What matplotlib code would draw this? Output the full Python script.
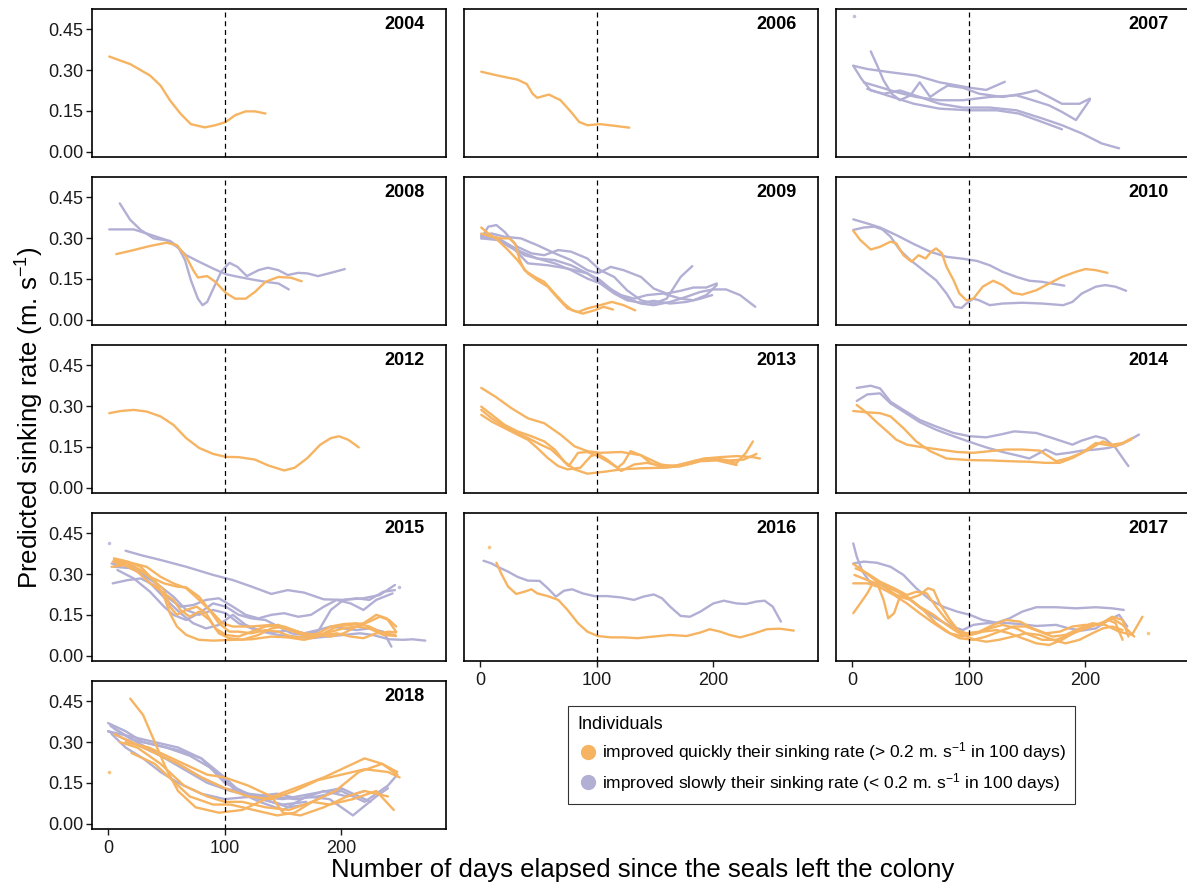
import matplotlib
matplotlib.use("Agg")
import matplotlib.pyplot as plt
from matplotlib.lines import Line2D

plt.rcParams["font.family"] = ["Liberation Sans", "DejaVu Sans"]
plt.rcParams["mathtext.fontset"] = "custom"
plt.rcParams["mathtext.rm"] = "Liberation Sans"
plt.rcParams["mathtext.it"] = "Liberation Sans:italic"

QUICK = "#F6B462"
SLOW = "#B2AFD5"

years = ["2004", "2006", "2007", "2008", "2009", "2010", "2012",
         "2013", "2014", "2015", "2016", "2017", "2018"]

# each curve: list of (days since departure, predicted sinking rate)
quick_2004 = [
    [(1, .350), (19, .322), (36, .280), (45, .243), (53, .189), (62, .140), (71, .101),
     (83, .089), (92, .097), (101, .109), (109, .134), (118, .148), (126, .148), (135, .140)],
]
slow_2004 = []

quick_2006 = [
    [(1, .294), (15, .280), (32, .265), (40, .249), (45, .213), (49, .198), (59, .210),
     (69, .189), (78, .146), (85, .109), (92, .097), (103, .101), (115, .095), (128, .088)],
]
slow_2006 = []

quick_2007 = []
slow_2007 = [
    [(1.4, .499)],
    [(1, .316), (13, .304), (33, .292), (55, .280), (75, .255), (101, .235), (115, .227), (131, .257)],
    [(16, .369), (21, .322), (27, .262), (34, .213), (41, .189), (50, .207), (58, .255), (67, .201),
     (75, .225), (82, .243), (95, .235), (109, .213), (129, .201), (146, .213), (158, .225),
     (169, .201), (180, .176), (195, .176), (204, .195)],
    [(1, .316), (8, .268), (16, .225), (27, .213), (41, .225), (58, .201), (75, .176), (95, .162),
     (118, .162), (141, .152), (163, .122), (180, .097), (197, .067), (214, .030), (229, .012)],
    [(10, .255), (24, .237), (38, .219), (55, .201), (75, .189), (95, .189), (118, .201),
     (141, .207), (155, .189), (169, .170), (180, .146), (192, .116), (204, .191)],
    [(13, .231), (30, .207), (53, .176), (75, .158), (101, .152), (124, .152), (143, .140),
     (163, .109), (180, .082)],
]

quick_2008 = [
    [(7, .241), (22, .256), (36, .271), (50, .283), (59, .274), (67, .231), (73, .182), (77, .155),
     (85, .160), (92, .139), (101, .098), (109, .077), (118, .077), (126, .102), (135, .139),
     (146, .157), (157, .154), (166, .141)],
]
slow_2008 = [
    [(1, .332), (22, .332), (33, .317), (50, .293), (59, .268), (67, .237), (78, .213), (90, .188),
     (101, .167), (112, .157), (123, .148), (135, .139), (146, .133), (155, .111)],
    [(10, .428), (19, .367), (28, .330), (39, .299), (53, .290), (60, .268), (66, .219), (71, .145),
     (77, .077), (81, .053), (85, .065), (91, .121), (97, .176), (104, .209), (111, .194),
     (119, .160), (129, .182), (137, .191), (146, .182), (154, .164), (163, .172), (171, .170),
     (180, .160), (191, .172), (203, .186)],
]

quick_2009 = [
    [(1, .339), (7, .317), (15, .293), (24, .256), (32, .219), (41, .170), (49, .145), (58, .121),
     (67, .077), (75, .041), (84, .028), (92, .041), (103, .053), (113, .065), (123, .053), (133, .034)],
    [(1, .317), (10, .305), (18, .299), (25, .299), (30, .280), (34, .219), (38, .182), (47, .157),
     (55, .139), (64, .096), (72, .059), (79, .034), (88, .022), (98, .034), (106, .047), (114, .037)],
]
slow_2009 = [
    [(1, .299), (7, .342), (14, .348), (21, .323), (32, .268), (44, .244), (55, .237), (67, .256),
     (78, .250), (92, .225), (103, .182), (115, .157), (126, .108), (138, .071), (149, .059),
     (160, .077), (172, .157), (182, .197)],
    [(1, .311), (10, .317), (21, .305), (35, .299), (49, .274), (64, .244), (78, .219), (92, .182),
     (101, .170), (112, .194), (123, .182), (138, .157), (149, .114), (160, .096), (172, .106),
     (183, .118), (194, .118), (203, .133)],
    [(1, .305), (13, .305), (27, .268), (38, .237), (49, .225), (64, .219), (78, .200), (92, .170),
     (103, .145), (115, .102), (126, .077), (138, .059), (149, .053), (163, .065), (177, .084),
     (189, .102), (200, .111), (211, .111), (223, .090), (236, .047)],
    [(1, .299), (15, .293), (30, .256), (41, .207), (58, .200), (75, .188), (92, .170), (106, .127),
     (121, .090), (132, .077), (143, .090), (157, .096), (172, .077), (183, .071), (194, .090), (203, .127)],
    [(1, .311), (18, .293), (35, .250), (49, .225), (64, .207), (78, .182), (92, .151), (103, .133),
     (115, .096), (126, .071), (138, .062), (149, .069), (163, .059), (177, .065), (189, .077), (199, .090)],
]

quick_2010 = [
    [(1, .327), (7, .293), (16, .258), (24, .268), (33, .287), (38, .280), (44, .237), (51, .213),
     (57, .237), (63, .225), (68, .250), (72, .262), (77, .244), (81, .194), (87, .145), (92, .096),
     (98, .071), (104, .077), (112, .121), (121, .143), (129, .127), (138, .098), (146, .092),
     (158, .108), (169, .133), (180, .157), (192, .176), (200, .186), (209, .182), (219, .172)],
]
slow_2010 = [
    [(1, .369), (13, .354), (24, .339), (38, .311), (53, .278), (67, .250), (81, .231), (95, .224),
     (107, .216), (118, .200), (129, .176), (141, .157), (152, .143), (163, .139), (175, .130), (182, .125)],
    [(1, .330), (10, .339), (19, .342), (26, .332), (33, .305), (41, .256), (50, .219), (61, .182),
     (72, .145), (81, .096), (88, .047), (94, .043), (98, .059), (104, .077), (109, .071), (118, .053),
     (129, .059), (146, .062), (163, .059), (181, .053), (189, .065), (197, .096), (209, .121),
     (217, .127), (226, .121), (235, .106)],
]

quick_2012 = [
    [(1, .274), (11, .282), (22, .286), (33, .280), (45, .262), (56, .231), (67, .182), (78, .146),
     (90, .124), (101, .113), (112, .112), (126, .103), (137, .082), (151, .063), (160, .073),
     (171, .109), (182, .158), (191, .182), (198, .189), (206, .176), (215, .148)],
]
slow_2012 = []

quick_2013 = [
    [(1, .367), (13, .335), (27, .292), (41, .255), (55, .237), (69, .195), (81, .152), (92, .134),
     (103, .128), (121, .131), (138, .119), (155, .085), (166, .079), (177, .091), (192, .107),
     (206, .112), (220, .116), (234, .112), (240, .107)],
    [(1, .298), (10, .268), (21, .231), (32, .207), (44, .189), (55, .170), (64, .140), (72, .097),
     (81, .067), (92, .051), (106, .058), (121, .067), (138, .071), (155, .073), (172, .079),
     (183, .091), (194, .107), (206, .103), (220, .091), (228, .128), (234, .170)],
    [(1, .286), (10, .255), (21, .225), (35, .195), (44, .176), (52, .158), (61, .140), (69, .109),
     (76, .079), (84, .128), (92, .131), (101, .116), (109, .097), (118, .073), (123, .091),
     (129, .134), (138, .119), (146, .091), (157, .073), (172, .079), (189, .097), (203, .100), (220, .083)],
    [(1, .268), (10, .243), (21, .219), (32, .195), (41, .176), (49, .146), (58, .109), (67, .079),
     (75, .067), (86, .073), (95, .116), (101, .124), (109, .103), (121, .061), (132, .085),
     (143, .091), (157, .079), (172, .083), (186, .100), (200, .107), (214, .100), (226, .103), (237, .124)],
]
slow_2013 = []

quick_2014 = [
    [(4, .304), (13, .274), (21, .241), (30, .207), (38, .176), (47, .158), (58, .150), (75, .140),
     (90, .131), (104, .128), (118, .134), (132, .140), (146, .140), (161, .136), (175, .097),
     (186, .109), (197, .128), (209, .164), (217, .158), (226, .152), (239, .176)],
    [(1, .282), (13, .277), (24, .274), (33, .262), (44, .219), (55, .170), (67, .134), (81, .107),
     (101, .101), (118, .100), (135, .097), (152, .095), (166, .091), (178, .091), (189, .109),
     (203, .140), (215, .170), (223, .158), (232, .164), (240, .182)],
]
slow_2014 = [
    [(4, .367), (16, .375), (24, .365), (33, .316), (44, .286), (58, .249), (72, .225), (87, .201),
     (101, .189), (115, .185), (129, .197), (139, .207), (158, .201), (172, .182), (189, .158),
     (197, .173), (209, .189), (217, .180), (226, .146), (232, .109), (237, .079)],
    [(4, .319), (13, .343), (24, .347), (33, .310), (44, .280), (58, .241), (72, .213), (87, .189),
     (101, .168), (115, .148), (129, .131), (144, .116), (152, .107), (161, .128), (166, .140),
     (175, .122), (186, .128), (197, .136), (209, .140), (220, .146), (232, .161), (246, .195)],
]

quick_2015 = [
    [(5, .358), (17, .346), (28, .327), (39, .278), (48, .217), (53, .156), (59, .107), (67, .076),
     (78, .058), (90, .055), (107, .058), (123, .060), (140, .070), (154, .067), (168, .058),
     (180, .070), (191, .088), (202, .100), (213, .107), (224, .100), (236, .076), (247, .072)],
    [(5, .352), (22, .339), (33, .327), (45, .290), (56, .266), (67, .248), (78, .205), (90, .156),
     (98, .119), (107, .107), (123, .107), (140, .113), (151, .100), (163, .082), (174, .070),
     (185, .076), (196, .082), (208, .070), (219, .064), (230, .082), (241, .088), (247, .085)],
    [(3, .327), (14, .333), (25, .309), (36, .266), (48, .229), (56, .205), (62, .168), (70, .143),
     (78, .162), (87, .131), (95, .082), (104, .064), (115, .058), (129, .076), (140, .100),
     (151, .107), (163, .088), (174, .070), (185, .082), (196, .107), (208, .113), (219, .119),
     (230, .150), (239, .137), (247, .088)],
    [(7, .339), (22, .327), (36, .290), (48, .266), (59, .254), (67, .251), (78, .217), (87, .168),
     (95, .119), (104, .088), (112, .088), (123, .082), (135, .094), (146, .088), (157, .070),
     (168, .067), (180, .082), (191, .107), (202, .116), (213, .119), (224, .107), (236, .082), (246, .076)],
    [(4, .346), (17, .339), (28, .315), (39, .278), (48, .241), (53, .180), (59, .150), (67, .168),
     (76, .180), (84, .156), (92, .100), (101, .076), (112, .070), (123, .088), (135, .107),
     (146, .113), (157, .094), (168, .082), (180, .076), (191, .070), (202, .082), (213, .107),
     (224, .125), (233, .143), (241, .131), (247, .107)],
]
slow_2015 = [
    [(1.1, .413)],
    [(249.7, .251)],
    [(15, .386), (28, .370), (45, .352), (67, .327), (90, .297), (107, .278), (123, .254), (140, .227),
     (154, .241), (168, .232), (185, .207), (202, .205), (219, .211), (233, .223), (246, .260)],
    [(3, .339), (14, .333), (28, .303), (39, .254), (50, .205), (62, .156), (73, .119), (84, .100),
     (95, .113), (107, .150), (118, .113), (132, .088), (146, .076), (160, .070), (174, .064),
     (188, .070), (202, .076), (216, .082), (227, .076), (241, .060), (253, .058), (261, .060), (272, .055)],
    [(4, .266), (17, .278), (28, .284), (39, .260), (50, .217), (62, .180), (73, .186), (84, .205),
     (95, .211), (107, .180), (118, .150), (129, .137), (140, .150), (151, .156), (163, .143),
     (174, .150), (185, .180), (196, .205), (208, .192), (219, .168), (230, .205), (244, .229)],
    [(5, .327), (22, .321), (33, .290), (45, .254), (56, .217), (67, .168), (78, .150), (90, .168),
     (101, .156), (112, .119), (123, .100), (135, .088), (146, .088), (157, .094), (168, .082),
     (180, .094), (191, .107), (202, .100), (213, .094), (224, .100), (236, .088), (243, .033)],
    [(8, .315), (22, .284), (36, .235), (48, .180), (56, .150), (67, .131), (78, .156), (90, .192),
     (101, .180), (112, .150), (123, .137), (135, .131), (146, .107), (157, .082), (168, .076),
     (180, .088), (191, .168), (202, .205), (213, .211), (224, .205), (236, .235), (246, .241)],
]

quick_2016 = [
    [(7.7, .401)],
    [(14, .342), (18, .303), (24, .254), (31, .227), (38, .235), (44, .244), (49, .229), (58, .219),
     (67, .205), (75, .168), (84, .119), (92, .088), (101, .072), (112, .067), (123, .067),
     (135, .064), (149, .070), (163, .076), (177, .072), (189, .085), (197, .097), (206, .088),
     (214, .076), (223, .067), (234, .080), (246, .097), (257, .099), (269, .092)],
]
slow_2016 = [
    [(3, .349), (10, .339), (15, .327), (24, .309), (32, .290), (41, .276), (51, .275), (58, .248),
     (65, .217), (72, .239), (79, .244), (88, .229), (98, .219), (109, .219), (121, .214),
     (132, .205), (140, .217), (149, .225), (156, .211), (163, .180), (172, .146), (180, .143),
     (189, .162), (200, .192), (209, .202), (220, .192), (228, .190), (237, .199), (244, .202),
     (251, .180), (258, .125)],
]

quick_2017 = [
    [(254, .082)],
    [(1, .156), (7, .192), (13, .229), (17, .260), (21, .272), (27, .205), (31, .137), (36, .156),
     (41, .217), (50, .205), (61, .168), (72, .119), (84, .082), (95, .070), (107, .082), (118, .100),
     (129, .113), (141, .100), (152, .076), (163, .058), (175, .058), (186, .076), (197, .094),
     (209, .113), (220, .131), (226, .119), (232, .058)],
    [(1, .337), (7, .321), (16, .290), (27, .254), (38, .223), (50, .211), (58, .223), (65, .248),
     (70, .241), (75, .192), (84, .131), (92, .088), (101, .076), (112, .088), (124, .094),
     (135, .082), (146, .064), (158, .045), (169, .039), (180, .058), (192, .088), (203, .107),
     (215, .119), (223, .137), (232, .113), (242, .070)],
    [(1, .266), (13, .266), (24, .251), (36, .223), (47, .192), (58, .156), (70, .119), (81, .088),
     (92, .064), (104, .058), (115, .070), (126, .088), (138, .107), (149, .107), (161, .088),
     (172, .070), (183, .076), (195, .100), (206, .119), (217, .113), (229, .088), (240, .076), (249, .143)],
    [(2, .297), (13, .278), (24, .260), (36, .241), (47, .217), (58, .180), (70, .150), (81, .113),
     (92, .082), (104, .060), (115, .051), (126, .058), (138, .070), (149, .082), (161, .076),
     (172, .058), (183, .045), (195, .058), (206, .082), (215, .100), (223, .107), (232, .094)],
    [(3, .321), (13, .303), (24, .272), (36, .248), (47, .223), (55, .235), (64, .229), (72, .180),
     (81, .131), (90, .094), (98, .082), (109, .088), (121, .113), (132, .131), (144, .125),
     (155, .100), (166, .082), (178, .088), (189, .107), (200, .113), (212, .113), (223, .143),
     (232, .131), (237, .070)],
]
slow_2017 = [
    [(1, .413), (4, .364), (9, .309), (16, .266), (27, .260), (38, .241), (50, .205), (61, .168),
     (72, .137), (84, .109), (95, .094), (104, .113), (115, .119), (129, .121), (144, .116),
     (158, .109), (175, .113), (186, .100), (197, .092), (209, .100), (220, .131), (229, .150), (236, .107)],
    [(1, .339), (10, .346), (21, .342), (33, .327), (44, .297), (55, .248), (67, .205), (78, .180),
     (90, .162), (101, .150), (112, .131), (124, .121), (135, .137), (146, .162), (158, .178),
     (175, .178), (192, .174), (209, .178), (223, .174), (233, .168)],
]

quick_2018 = [
    [(1, .190)],
    [(19, .46), (30, .40), (40, .30), (50, .20), (60, .12), (75, .06), (95, .04), (115, .05),
     (135, .09), (160, .13), (185, .17), (205, .21), (220, .24), (235, .22), (248, .18)],
    [(5, .33), (20, .30), (40, .26), (60, .22), (80, .17), (100, .13), (120, .10), (140, .09),
     (160, .12), (180, .16), (200, .18), (220, .20), (240, .19), (250, .17)],
    [(10, .30), (25, .28), (45, .22), (65, .14), (85, .10), (100, .08), (115, .08), (135, .06),
     (155, .05), (175, .08), (195, .12), (215, .19), (235, .22), (248, .19)],
    [(20, .26), (40, .22), (55, .16), (70, .10), (90, .07), (105, .07), (125, .05), (145, .03),
     (160, .04), (175, .08), (190, .07), (210, .09), (230, .12), (245, .05)],
    [(15, .30), (35, .28), (50, .25), (70, .21), (85, .18), (100, .17), (120, .14), (140, .10),
     (150, .04), (165, .03), (185, .06), (205, .10), (220, .12), (240, .10)],
]
slow_2018 = [
    [(0, .37), (15, .34), (30, .30), (50, .28), (70, .25), (90, .20), (110, .12), (130, .09),
     (150, .07), (170, .08)],
    [(0, .34), (20, .30), (40, .26), (60, .22), (80, .17), (100, .13), (120, .11), (140, .10),
     (160, .09), (180, .10), (200, .12), (220, .08), (240, .14), (248, .18)],
    [(2, .36), (20, .31), (40, .29), (60, .27), (80, .24), (100, .15), (120, .11), (140, .08),
     (155, .06), (170, .07), (185, .10), (200, .13)],
    [(3, .33), (15, .28), (30, .24), (45, .19), (60, .15), (80, .11), (100, .09), (125, .10),
     (150, .09), (175, .11), (200, .13), (225, .08)],
    [(5, .35), (25, .30), (45, .25), (65, .20), (85, .15), (105, .12), (125, .10), (145, .11),
     (165, .09), (185, .12), (205, .10), (220, .12)],
    [(0, .34), (20, .32), (40, .30), (60, .28), (80, .24), (100, .17), (115, .11), (130, .08),
     (150, .05), (170, .10), (190, .09), (210, .03), (230, .10), (240, .13)],
]

panels = {
    "2004": (quick_2004, slow_2004), "2006": (quick_2006, slow_2006),
    "2007": (quick_2007, slow_2007), "2008": (quick_2008, slow_2008),
    "2009": (quick_2009, slow_2009), "2010": (quick_2010, slow_2010),
    "2012": (quick_2012, slow_2012), "2013": (quick_2013, slow_2013),
    "2014": (quick_2014, slow_2014), "2015": (quick_2015, slow_2015),
    "2016": (quick_2016, slow_2016), "2017": (quick_2017, slow_2017),
    "2018": (quick_2018, slow_2018),
}

W, H = 1187, 886
fig = plt.figure(figsize=(W / 100, H / 100), dpi=100)

col_left = [92, 464, 836]
row_top = [9, 177, 345, 513, 681]
pw, ph = 354, 148
xtick_years = {"2016", "2017", "2018"}


def draw_curves(ax, curves, color):
    for c in curves:
        d = [p[0] for p in c]
        v = [p[1] for p in c]
        if len(c) == 1:
            ax.plot(d, v, linestyle="none", marker="o", ms=1.6, color=color, alpha=0.7)
        else:
            ax.plot(d, v, color=color, lw=1.7, solid_capstyle="round", solid_joinstyle="round")


for i, yr in enumerate(years):
    r, c = divmod(i, 3)
    ax = fig.add_axes([col_left[c] / W, (H - row_top[r] - ph) / H, pw / W, ph / H])
    quick, slow = panels[yr]
    draw_curves(ax, slow, SLOW)
    draw_curves(ax, quick, QUICK)
    ax.axvline(100, color="black", lw=0.9, linestyle=(0, (4, 3)))
    ax.set_xlim(-13.8, 289.8)
    ax.set_ylim(-0.02, 0.525)
    ax.set_yticks([0, 0.15, 0.30, 0.45])
    ax.set_xticks([0, 100, 200])
    for s in ax.spines.values():
        s.set_linewidth(1.2)
        s.set_color("black")
    ax.tick_params(labelsize=13, colors="#1a1a1a", length=4, width=1, pad=2)
    if c == 0:
        ax.set_yticklabels(["0.00", "0.15", "0.30", "0.45"])
    else:
        ax.tick_params(axis="y", left=False, labelleft=False)
    if yr not in xtick_years:
        ax.tick_params(axis="x", bottom=False, labelbottom=False)
    else:
        ax.tick_params(axis="x", pad=4)
    ax.text(0.94, 0.895, yr, transform=ax.transAxes, ha="right", va="center",
            fontsize=13, fontweight="bold")

fig.text(643 / W, 1 - 870 / H, "Number of days elapsed since the seals left the colony",
         ha="center", va="center", fontsize=18.5)
fig.text(30 / W, 1 - 418 / H, "Predicted sinking rate (m. s$^{-1}$)",
         ha="center", va="center", rotation=90, fontsize=18.5)

handles = [
    Line2D([], [], linestyle="none", marker="o", ms=10, color=QUICK,
           label="improved quickly their sinking rate (> 0.2 m. s$^{-1}$ in 100 days)"),
    Line2D([], [], linestyle="none", marker="o", ms=10, color=SLOW,
           label="improved slowly their sinking rate (< 0.2 m. s$^{-1}$ in 100 days)"),
]
leg = fig.legend(handles=handles, title="Individuals", loc="upper left",
                 bbox_to_anchor=(568 / W, 1 - 706 / H), borderaxespad=0,
                 fontsize=12.5, title_fontsize=13,
                 frameon=True, fancybox=False, edgecolor="black", handletextpad=0.2,
                 borderpad=0.55, labelspacing=0.45, handlelength=1.2)
leg.get_frame().set_linewidth(0.8)
leg._legend_box.align = "left"

fig.savefig("out.png", dpi=100)
